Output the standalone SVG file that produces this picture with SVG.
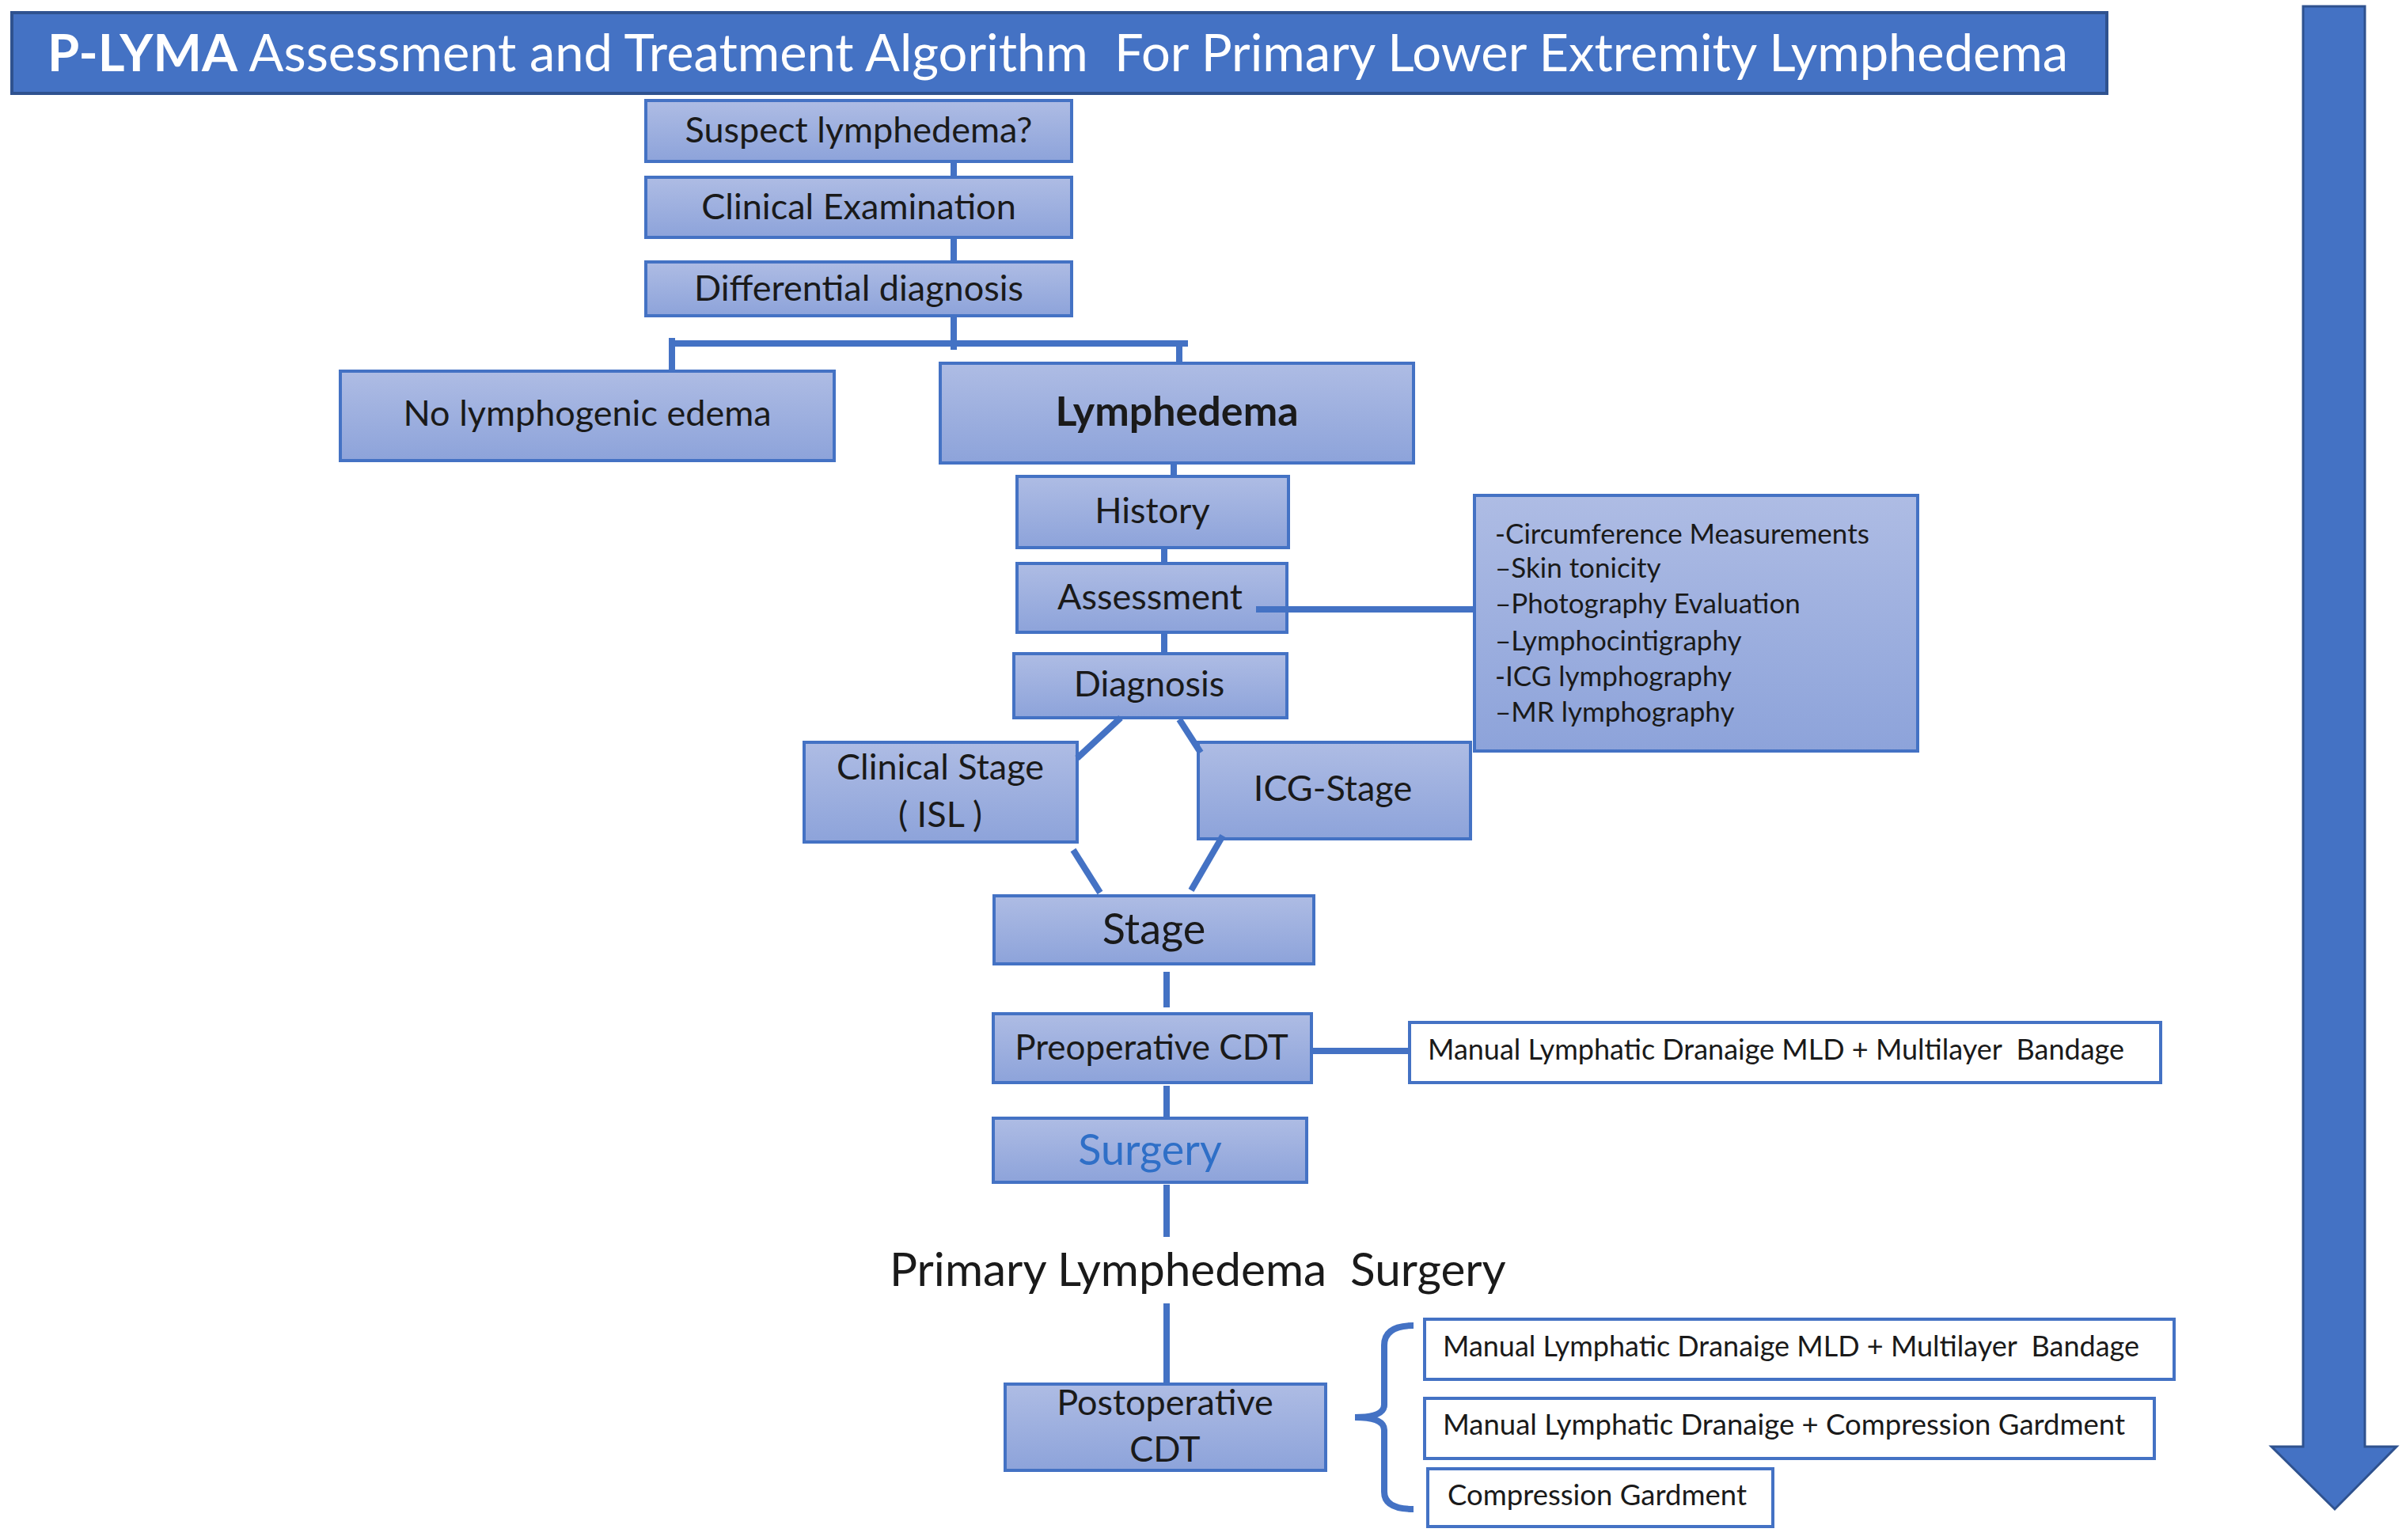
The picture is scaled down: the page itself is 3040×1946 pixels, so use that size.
<svg xmlns="http://www.w3.org/2000/svg" width="3040" height="1946" viewBox="0 0 3040 1946">
<defs>
<linearGradient id="g" x1="0" y1="0" x2="0" y2="1">
<stop offset="0" stop-color="#AEBCE4"/>
<stop offset="1" stop-color="#8DA3DA"/>
</linearGradient>
</defs>
<style>
.box{fill:url(#g);stroke:#4472C4;stroke-width:4}
.wbox{fill:#FFFFFF;stroke:#4472C4;stroke-width:4}
.t{font-family:Lato,"Open Sans",sans-serif;fill:#1A1A1A;text-anchor:middle}
.ts{font-family:Lato,"Open Sans",sans-serif;fill:#1A1A1A;white-space:pre}
.c{stroke:#4472C4;stroke-width:8;fill:none}
</style>
<rect x="0" y="0" width="3040" height="1946" fill="#FFFFFF"/>
<g id="title">
<rect x="15" y="16" width="2647" height="102" fill="#4472C4" stroke="#2F528F" stroke-width="4"/>
<text x="60" y="90" font-family="Lato,'Open Sans',sans-serif" font-size="65" fill="#FFFFFF" xml:space="preserve" style="white-space:pre"><tspan font-weight="bold">P-LYMA</tspan> Assessment and Treatment Algorithm  For Primary Lower Extremity Lymphedema</text>
</g>
<g id="timeline-arrow">
<polygon points="2910,8 2988,8 2988,1828 3028,1828 2950,1907 2870,1828 2910,1828" fill="#4472C4" stroke="#2F528F" stroke-width="3"/>
</g>
<g id="n-suspect"><rect class="box" x="816" y="127" width="538" height="77"/><text class="t" x="1085" y="180" font-size="45">Suspect lymphedema?</text></g>
<g id="n-clinical-exam"><rect class="box" x="816" y="224" width="538" height="76"/><text class="t" x="1085" y="277" font-size="45">Clinical Examination</text></g>
<g id="n-differential"><rect class="box" x="816" y="331" width="538" height="68"/><text class="t" x="1085" y="380" font-size="45">Differential diagnosis</text></g>
<g id="n-no-lymphogenic"><rect class="box" x="430" y="469" width="624" height="113"/><text class="t" x="742" y="538" font-size="45">No lymphogenic edema</text></g>
<g id="n-lymphedema"><rect class="box" x="1188" y="459" width="598" height="126"/><text class="t" x="1487" y="538" font-size="52" font-weight="bold">Lymphedema</text></g>
<g id="n-history"><rect class="box" x="1285" y="602" width="343" height="90"/><text class="t" x="1456" y="661" font-size="45">History</text></g>
<g id="n-assessment"><rect class="box" x="1285" y="712" width="341" height="87"/><text class="t" x="1453" y="770" font-size="45">Assessment</text></g>
<g id="n-diagnosis"><rect class="box" x="1281" y="826" width="345" height="81"/><text class="t" x="1452" y="880" font-size="45">Diagnosis</text></g>
<g id="n-clinical-stage"><rect class="box" x="1016" y="938" width="345" height="126"/><text class="t" x="1188" y="985" font-size="45">Clinical Stage</text><text class="t" x="1188" y="1045" font-size="45">( ISL )</text></g>
<g id="n-icg-stage"><rect class="box" x="1514" y="938" width="344" height="122"/><text class="t" x="1684" y="1012" font-size="45">ICG-Stage</text></g>
<g id="n-assessment-list"><rect class="box" x="1863" y="626" width="560" height="323"/>
<text class="ts" x="1889" y="687" font-size="35">-Circumference Measurements</text>
<text class="ts" x="1889" y="730" font-size="35">–Skin tonicity</text>
<text class="ts" x="1889" y="775" font-size="35">–Photography Evaluation</text>
<text class="ts" x="1889" y="822" font-size="35">–Lymphocintigraphy</text>
<text class="ts" x="1889" y="867" font-size="35">-ICG lymphography</text>
<text class="ts" x="1889" y="912" font-size="35">–MR lymphography</text>
</g>
<g id="n-stage"><rect class="box" x="1256" y="1132" width="404" height="86"/><text class="t" x="1458" y="1193" font-size="54">Stage</text></g>
<g id="n-preop"><rect class="box" x="1255" y="1281" width="402" height="87"/><text class="t" x="1455" y="1339" font-size="44">Preoperative CDT</text></g>
<g id="n-preop-mld"><rect class="wbox" x="1781" y="1292" width="949" height="76"/><text class="ts" x="1804" y="1339" font-size="36" xml:space="preserve">Manual Lymphatic Dranaige MLD + Multilayer  Bandage</text></g>
<g id="n-surgery"><rect class="box" x="1255" y="1413" width="396" height="81"/><text class="t" x="1453" y="1472" font-size="54" style="fill:#2F6FC7">Surgery</text></g>
<g id="n-primary-surgery"><text class="ts" x="1124" y="1625" font-size="58.5" xml:space="preserve">Primary Lymphedema  Surgery</text></g>
<g id="n-postop"><rect class="box" x="1270" y="1749" width="405" height="109"/><text class="t" x="1472" y="1788" font-size="45">Postoperative</text><text class="t" x="1472" y="1847" font-size="45">CDT</text></g>
<g id="n-post-1"><rect class="wbox" x="1800" y="1667" width="947" height="76"/><text class="ts" x="1823" y="1714" font-size="36" xml:space="preserve">Manual Lymphatic Dranaige MLD + Multilayer  Bandage</text></g>
<g id="n-post-2"><rect class="wbox" x="1800" y="1767" width="922" height="76"/><text class="ts" x="1823" y="1813" font-size="36.5">Manual Lymphatic Dranaige + Compression Gardment</text></g>
<g id="n-post-3"><rect class="wbox" x="1804" y="1856" width="436" height="73"/><text class="ts" x="1829" y="1902" font-size="36.5">Compression Gardment</text></g>
<g id="connectors">
<line class="c" x1="1205" y1="204" x2="1205" y2="224"/>
<line class="c" x1="1205" y1="300" x2="1205" y2="331"/>
<line class="c" x1="1205" y1="399" x2="1205" y2="442"/>
<line class="c" x1="849" y1="434" x2="1501" y2="434" stroke-width="10"/>
<line class="c" x1="849" y1="427" x2="849" y2="467" stroke-width="7"/>
<line class="c" x1="1490" y1="434" x2="1490" y2="459"/>
<line class="c" x1="1483" y1="585" x2="1483" y2="602"/>
<line class="c" x1="1471" y1="692" x2="1471" y2="714"/>
<line class="c" x1="1471" y1="801" x2="1471" y2="826"/>
<line class="c" x1="1587" y1="770" x2="1863" y2="770" stroke-width="9"/>
<line class="c" x1="1416" y1="907" x2="1361" y2="958" stroke-width="9"/>
<line class="c" x1="1490" y1="909" x2="1517" y2="951" stroke-width="9"/>
<line class="c" x1="1356" y1="1074" x2="1390" y2="1128" stroke-width="9"/>
<line class="c" x1="1545" y1="1056" x2="1505" y2="1125" stroke-width="9"/>
<line class="c" x1="1474" y1="1228" x2="1474" y2="1273"/>
<line class="c" x1="1657" y1="1328" x2="1781" y2="1328" stroke-width="10"/>
<line class="c" x1="1474" y1="1372" x2="1474" y2="1413"/>
<line class="c" x1="1474" y1="1497" x2="1474" y2="1563"/>
<line class="c" x1="1474" y1="1647" x2="1474" y2="1750"/>
<path class="c" stroke-width="4" d="M1786,1675 Q1749,1675 1749,1700 L1749,1775 Q1749,1791 1712,1791 Q1749,1791 1749,1807 L1749,1885 Q1749,1907 1786,1907"/>
</g>
</svg>
